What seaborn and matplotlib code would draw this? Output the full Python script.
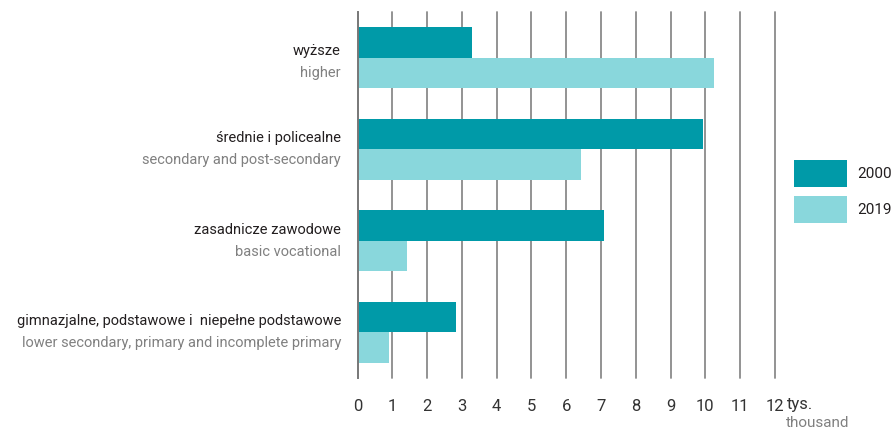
import pandas as pd
import matplotlib
matplotlib.use('Agg')
import matplotlib.pyplot as plt
import seaborn as sns
from matplotlib import font_manager
from matplotlib.patches import Patch

# Dane (tys.)
categories_pl = ['wyższe', 'średnie i policealne', 'zasadnicze zawodowe',
                 'gimnazjalne, podstawowe i  niepełne podstawowe']
categories_en = ['higher', 'secondary and post-secondary', 'basic vocational',
                 'lower secondary, primary and incomplete primary']
years = ['2000', '2019']
values_2000 = [3.29, 9.93, 7.08, 2.83]
values_2019 = [10.24, 6.42, 1.42, 0.90]
x_ticks = list(range(0, 13))

colors = {'2000': '#009aa8', '2019': '#89d7dc'}
dark_text = '#231f20'
grey_text = '#808080'

sns.set_theme(style='white')

# wąska czcionka, jeśli jest dostępna
available = {f.name for f in font_manager.fontManager.ttflist}
font_name = 'DejaVu Sans'
for name in ['Liberation Sans Narrow', 'DejaVu Sans Condensed', 'Roboto', 'Liberation Sans']:
    if name in available:
        font_name = name
        break
plt.rcParams['font.family'] = [font_name, 'DejaVu Sans']

df = pd.DataFrame({
    'kategoria': categories_pl * 2,
    'rok': [years[0]] * 4 + [years[1]] * 4,
    'wartosc': values_2000 + values_2019,
})

fig = plt.figure(figsize=(8.92, 4.30), dpi=100)
ax = fig.add_axes([357.5 / 892, 1 - 378 / 430, (775 - 357.5) / 892, (378 - 12) / 430])

sns.barplot(data=df, y='kategoria', x='wartosc', hue='rok', orient='h',
            palette=colors, width=0.67, gap=0, saturation=1, linewidth=0,
            ax=ax, legend=False, zorder=3)

ax.set_xlim(0, 12)
ax.set_ylim(3.5, -0.5)
ax.set_xticks(x_ticks)
ax.set_xticklabels([str(t) for t in x_ticks], fontsize=12, color='#333333')
ax.tick_params(axis='x', length=0, pad=15)
ax.set_yticks([])
ax.set_xlabel('')
ax.set_ylabel('')

for t in x_ticks[1:]:
    ax.axvline(t, color='#8a8a8a', lw=1.3, zorder=1, clip_on=False)
for s in ['top', 'right', 'bottom']:
    ax.spines[s].set_visible(False)
ax.spines['left'].set_color('#777777')
ax.spines['left'].set_linewidth(1.4)
ax.spines['left'].set_zorder(4)

# dwujęzyczne etykiety kategorii
label_size = 10.5
trans = matplotlib.transforms.blended_transform_factory(fig.transFigure, ax.transData)
for i, (pl, en) in enumerate(zip(categories_pl, categories_en)):
    shift = 0.05 if i == 0 else 0.0
    ax.text(341 / 892, i - 0.12 + shift, pl, transform=trans, ha='right', va='center',
            fontsize=label_size, color=dark_text)
    ax.text(341 / 892, i + 0.12 + shift, en, transform=trans, ha='right', va='center',
            fontsize=label_size, color=grey_text)

# jednostka osi
fig.text(787 / 892, 1 - 405 / 430, 'tys.', ha='left', va='center', fontsize=12, color='#333333')
fig.text(786 / 892, 1 - 423 / 430, 'thousand', ha='left', va='center', fontsize=11, color=grey_text)

# legenda: prostokąty ok. 53x27 px
leg_size = 11
fs_px = leg_size * 100 / 72
hh = (27 / fs_px - 0.245) / 0.65
handles = [Patch(facecolor=colors[y], edgecolor='none', label=y) for y in years]
fig.legend(handles=handles, loc='upper left', bbox_to_anchor=(794 / 892, 1 - 160 / 430),
           frameon=False, borderpad=0, borderaxespad=0,
           handlelength=53 / fs_px, handleheight=hh,
           handletextpad=0.7, labelspacing=0.6, fontsize=leg_size, labelcolor=dark_text)

fig.savefig('out.png', dpi=100)
